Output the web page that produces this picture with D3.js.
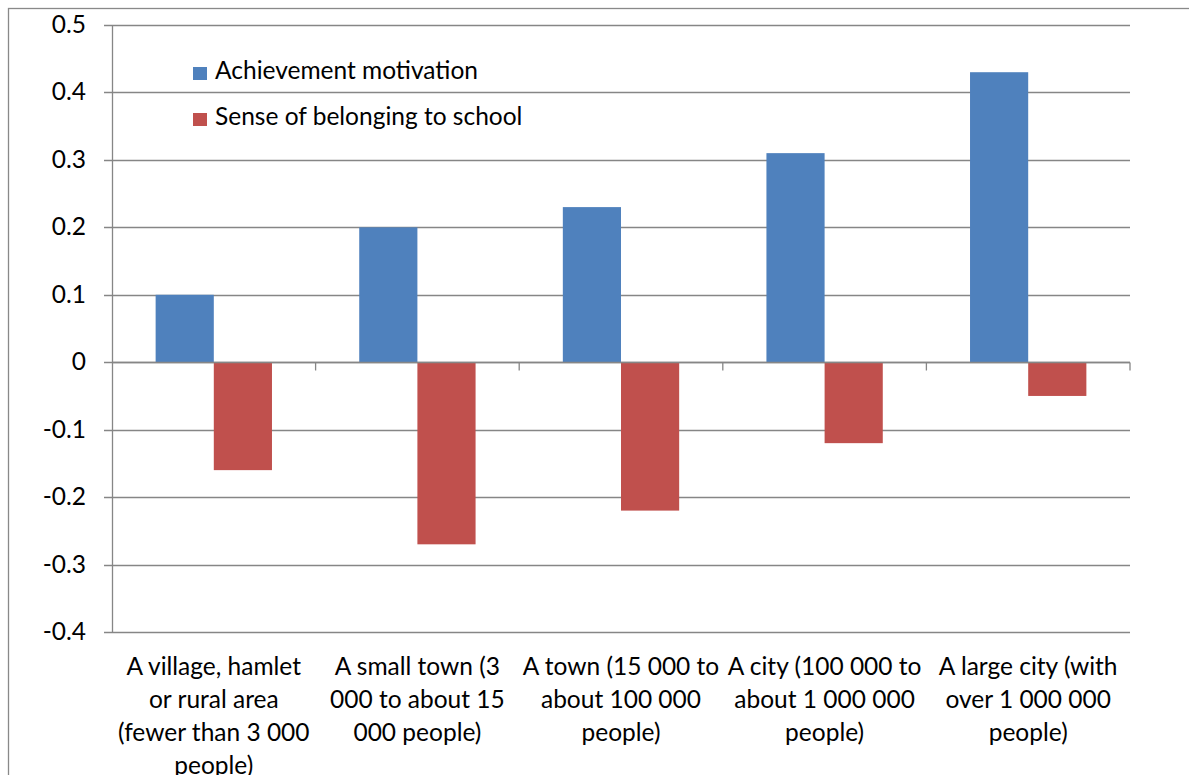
<!DOCTYPE html>
<html><head><meta charset="utf-8">
<script src="https://cdn.jsdelivr.net/npm/d3@7"></script>
<style>body{margin:0;background:#fff}svg{display:block}text{font-family:Lato,"Open Sans",sans-serif;fill:#000}</style>
</head><body>
<svg id="c" width="1189" height="775"></svg>
<script>
const categories = [
  ["A village, hamlet","or rural area","(fewer than 3 000","people)"],
  ["A small town (3","000 to about 15","000 people)"],
  ["A town (15 000 to","about 100 000","people)"],
  ["A city (100 000 to","about 1 000 000","people)"],
  ["A large city (with","over 1 000 000","people)"]
];
const seriesNames = ["Achievement motivation","Sense of belonging to school"];
const achievement = [0.10, 0.20, 0.23, 0.31, 0.43];
const belonging = [-0.16, -0.27, -0.22, -0.12, -0.05];
const yTicks = [0.5,0.4,0.3,0.2,0.1,0,-0.1,-0.2,-0.3,-0.4];
const colors = ["#4F81BD","#C0504D"];

const svg = d3.select("#c");
const L = 112, R = 1130, T = 25, B = 632;
const FS = 24.5;
svg.append("rect").attr("x",8.5).attr("y",8.5).attr("width",1200).attr("height",800)
  .attr("fill","none").attr("stroke","#898989").attr("stroke-width",1.3);

const y = d3.scaleLinear().domain([-0.4,0.5]).range([B,T]);
const x0 = d3.scaleBand().domain(d3.range(categories.length)).range([L,R]).paddingInner(0).paddingOuter(0);
const bw = x0.bandwidth()/3.5;
const x1 = d3.scaleBand().domain([0,1]).range([x0.bandwidth()/2 - bw, x0.bandwidth()/2 + bw]);

// gridlines
svg.append("g").selectAll("line").data(yTicks).join("line")
  .attr("x1",L-8).attr("x2",R).attr("y1",d=>Math.round(y(d))+0.5).attr("y2",d=>Math.round(y(d))+0.5)
  .attr("stroke","#868686").attr("stroke-width",1.3);

// y tick labels
const fmt = d => d===0 ? "0" : d3.format(".1f")(d).replace("\u2212","-");
svg.append("g").selectAll("text").data(yTicks).join("text")
  .attr("x",86).attr("y",d=>y(d)+8).attr("text-anchor","end")
  .attr("font-size",FS).text(fmt);

// bars
const series = [achievement, belonging];
series.forEach((vals,si)=>{
  svg.append("g").selectAll("rect").data(vals).join("rect")
    .attr("x",(d,i)=>x0(i)+x1(si)).attr("width",x1.bandwidth())
    .attr("y",d=>y(Math.max(0,d))).attr("height",d=>Math.abs(y(d)-y(0)))
    .attr("fill",colors[si]);
});

// y axis line
svg.append("line").attr("x1",L+0.5).attr("x2",L+0.5).attr("y1",T).attr("y2",B)
  .attr("stroke","#868686").attr("stroke-width",1.3);
// zero axis with category ticks
const z = Math.round(y(0))+0.5;
svg.append("line").attr("x1",L).attr("x2",R).attr("y1",z).attr("y2",z).attr("stroke","#868686").attr("stroke-width",1.3);
svg.append("g").selectAll("line").data(d3.range(1,categories.length+1)).join("line")
  .attr("x1",i=>x0.step()*i+L).attr("x2",i=>x0.step()*i+L).attr("y1",z).attr("y2",z+8)
  .attr("stroke","#868686").attr("stroke-width",1.3);

// category labels
categories.forEach((lines,i)=>{
  const t = svg.append("text").attr("text-anchor","middle").attr("font-size",FS)
    .attr("x",x0(i)+x0.bandwidth()/2).attr("y",675);
  lines.forEach((ln,j)=>t.append("tspan").attr("x",x0(i)+x0.bandwidth()/2).attr("y",675+j*33).text(ln));
});

// legend
seriesNames.forEach((n,i)=>{
  const by = 79 + i*46;
  svg.append("rect").attr("x",193).attr("y",by-12).attr("width",14).attr("height",13).attr("fill",colors[i]);
  svg.append("text").attr("x",215).attr("y",by).attr("font-size",FS).text(n);
});
</script>
</body></html>
